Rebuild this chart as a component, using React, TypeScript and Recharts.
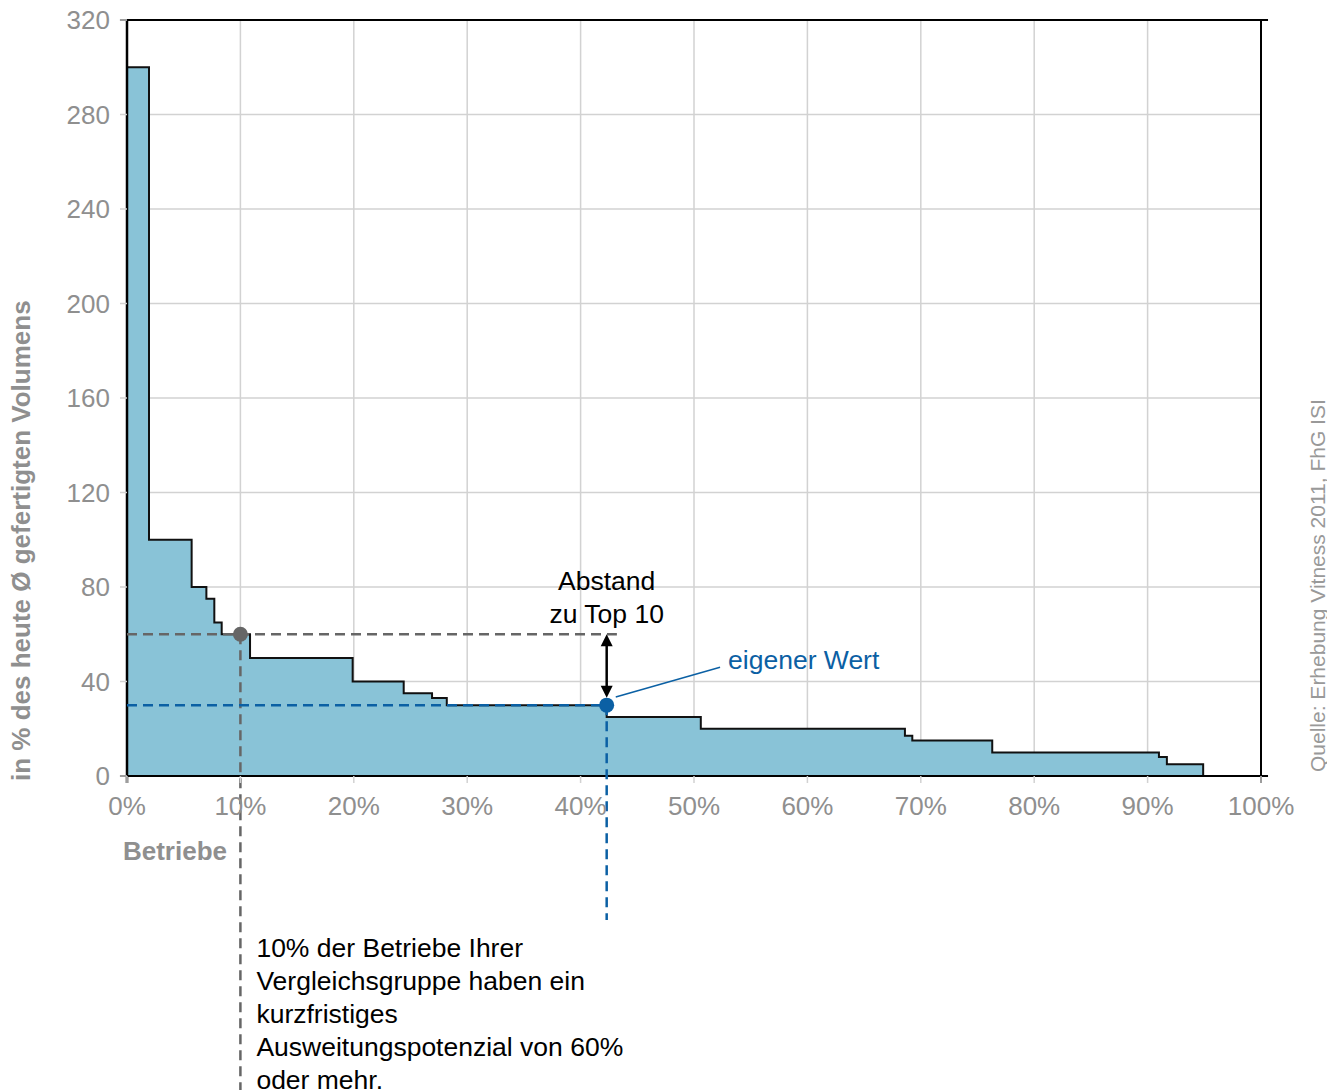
import React from "react"
import {
  ComposedChart,
  Area,
  XAxis,
  YAxis,
  CartesianGrid,
  ReferenceLine,
  ReferenceDot
} from "recharts"

// share of firms (in %) where each step starts, and the potential held until the next step
const shares = [0, 1.94, 5.7, 7.0, 7.7, 8.35, 10.85, 19.9, 24.4, 26.9, 28.2, 42.3, 50.6, 68.6, 69.25, 76.3, 91.0, 91.7, 94.9, 100]
const potentials = [300, 100, 80, 75, 65, 60, 50, 40, 35, 33, 30, 25, 20, 17, 15, 10, 8, 5, 0, 0]

const xTicks = [0, 10, 20, 30, 40, 50, 60, 70, 80, 90, 100]
const yTicks = [0, 40, 80, 120, 160, 200, 240, 280, 320]

// annotations
const topShare = 10
const topValue = 60
const ownShare = 42.3
const ownValue = 30
const topLineEnd = 43.2
const topDropEnd = -135
const ownDropEnd = -61
const leaderFrom = { x: 43.1, y: 33.4 }
const leaderTo = { x: 52.3, y: 46.0 }
const noteLines = [
  "10% der Betriebe Ihrer",
  "Vergleichsgruppe haben ein",
  "kurzfristiges",
  "Ausweitungspotenzial von 60%",
  "oder mehr."
]

const data = shares.map((s, i) => ({ share: s, potential: potentials[i] }))

const W = 1327
const H = 1082
const grey = "#8f8f8f"
const gridGrey = "#d2d2d2"
const fillBlue = "#89c3d7"
const darkBlue = "#0b60a4"
const dashGrey = "#666666"

function Arrow(p: any) {
  const { x1, y1, x2 } = p
  const y2 = p.y2 - 7.5
  const head = 12
  const half = 6
  return (
    <g>
      <line x1={x1} y1={y1 + head - 1} x2={x2} y2={y2 - head + 1} stroke="#000" strokeWidth={2.5} />
      <polygon points={`${x1},${y1} ${x1 - half},${y1 + head} ${x1 + half},${y1 + head}`} fill="#000" />
      <polygon points={`${x2},${y2} ${x2 - half},${y2 - head} ${x2 + half},${y2 - head}`} fill="#000" />
      <text x={x1} y={y1 - 44} textAnchor="middle" fontSize={26.5} fill="#000">Abstand</text>
      <text x={x1} y={y1 - 11} textAnchor="middle" fontSize={26.5} fill="#000">zu Top 10</text>
    </g>
  )
}

function Leader(p: any) {
  const { x1, y1, x2, y2 } = p
  return (
    <g>
      <line x1={x1} y1={y1} x2={x2} y2={y2} stroke={darkBlue} strokeWidth={1.5} />
      <text x={x2 + 8} y={y2 + 2} fontSize={26.5} fill={darkBlue}>eigener Wert</text>
    </g>
  )
}

function TopDrop(p: any) {
  const { x1, y1, x2, y2 } = p
  return (
    <g>
      <line x1={x1} y1={y1} x2={x2} y2={y2} stroke={dashGrey} strokeWidth={2.5} strokeDasharray="10 6" />
      {noteLines.map((t, i) => (
        <text key={i} x={x1 + 16} y={y1 + 323 + i * 33} fontSize={26.5} fill="#000">{t}</text>
      ))}
    </g>
  )
}

export default function App() {
  return (
    <div style={{ position: "relative", width: W, height: H, fontFamily: "'Liberation Sans', Arial, sans-serif" }}>
      <ComposedChart
        width={W}
        height={H}
        data={data}
        margin={{ top: 12, right: 0, bottom: 274, left: 0 }}
      >
        <CartesianGrid stroke={gridGrey} strokeWidth={1.5} />
        <XAxis
          dataKey="share"
          type="number"
          domain={[0, 100]}
          ticks={xTicks}
          interval={0}
          allowDataOverflow
          tickFormatter={(v) => `${v}%`}
          axisLine={false}
          tickLine={{ stroke: gridGrey, strokeWidth: 1.5 }}
          tickSize={7}
          tickMargin={14}
          tick={{ fill: grey, fontSize: 26 }}
          height={40}
        />
        <YAxis
          type="number"
          domain={[0, 320]}
          ticks={yTicks}
          interval={0}
          allowDataOverflow
          axisLine={false}
          tickLine={{ stroke: gridGrey, strokeWidth: 1.5 }}
          tickSize={7}
          tickMargin={10}
          tick={{ fill: grey, fontSize: 26 }}
          width={119}
        />
        <YAxis
          yAxisId="right"
          orientation="right"
          type="number"
          domain={[0, 320]}
          ticks={yTicks}
          interval={0}
          axisLine={false}
          tickLine={{ stroke: gridGrey, strokeWidth: 1.5 }}
          tickSize={7}
          tickFormatter={() => ""}
          width={74}
        />
        <Area
          type="stepAfter"
          dataKey="potential"
          stroke="#111"
          strokeWidth={2}
          fill={fillBlue}
          fillOpacity={1}
          dot={false}
          activeDot={false}
          isAnimationActive={false}
        />

        {/* frame */}
        <ReferenceLine segment={[{ x: -0.62, y: 320 }, { x: 100.62, y: 320 }]} stroke="#000" strokeWidth={2} ifOverflow="visible" />
        <ReferenceLine segment={[{ x: -0.62, y: 0 }, { x: 100.62, y: 0 }]} stroke="#000" strokeWidth={2} ifOverflow="visible" />
        <ReferenceLine segment={[{ x: 0, y: 320 }, { x: 0, y: -2.96 }]} stroke="#000" strokeWidth={2.5} ifOverflow="visible" />
        <ReferenceLine segment={[{ x: 100, y: 320 }, { x: 100, y: -2.96 }]} stroke="#000" strokeWidth={2} ifOverflow="visible" />

        {/* top 10 guide */}
        <ReferenceLine segment={[{ x: 0, y: topValue }, { x: topLineEnd, y: topValue }]} stroke={dashGrey} strokeWidth={2.5} strokeDasharray="10 6" ifOverflow="visible" />
        <ReferenceLine segment={[{ x: topShare, y: topValue }, { x: topShare, y: topDropEnd }]} ifOverflow="visible" shape={TopDrop} />

        {/* own value guide */}
        <ReferenceLine segment={[{ x: 0, y: ownValue }, { x: ownShare, y: ownValue }]} stroke={darkBlue} strokeWidth={2.5} strokeDasharray="10 6" ifOverflow="visible" />
        <ReferenceLine segment={[{ x: ownShare, y: ownValue }, { x: ownShare, y: ownDropEnd }]} stroke={darkBlue} strokeWidth={2.5} strokeDasharray="10 6" ifOverflow="visible" />

        <ReferenceDot x={topShare} y={topValue} r={7.5} fill="#666" stroke="none" ifOverflow="visible" />
        <ReferenceDot x={ownShare} y={ownValue} r={7.5} fill={darkBlue} stroke="none" ifOverflow="visible" />

        <ReferenceLine segment={[{ x: ownShare, y: topValue }, { x: ownShare, y: ownValue }]} ifOverflow="visible" shape={Arrow} />
        <ReferenceLine segment={[leaderFrom, leaderTo]} ifOverflow="visible" shape={Leader} />
      </ComposedChart>

      <svg width={W} height={H} style={{ position: "absolute", left: 0, top: 0, pointerEvents: "none" }}>
        <text transform="translate(22, 773) rotate(-90)" fontSize={26} fontWeight="bold" fill={grey}>
          in % des heute Ø gefertigten Volumens
        </text>
        <text x={219} y={852} textAnchor="end" fontSize={26} fontWeight="bold" fill={grey}>Betriebe</text>
        <text transform="translate(1317, 764) rotate(-90)" fontSize={21} fill="#999">
          Quelle: Erhebung Vitness 2011, FhG ISI
        </text>
      </svg>
    </div>
  )
}
